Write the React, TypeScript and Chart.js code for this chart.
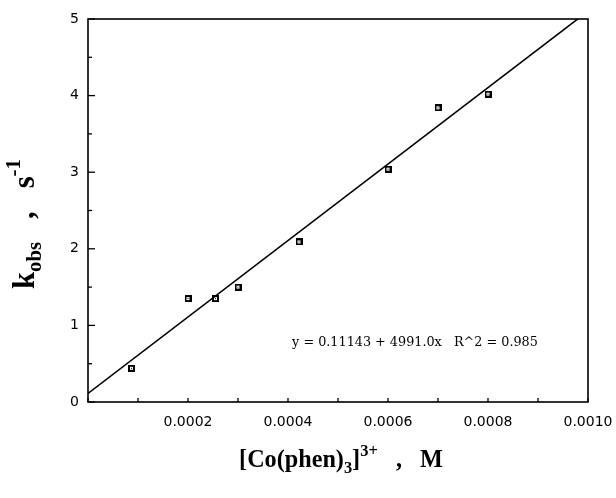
import React, { useEffect, useRef } from 'react';
import { Chart, registerables } from 'chart.js';

Chart.register(...registerables);

// Measured data: [Co(phen)3]3+ concentration (M) vs k_obs (s^-1)
const concentrations = [0.000087, 0.0002, 0.000255, 0.0003, 0.000422, 0.0006, 0.0007, 0.0008];
const kobsValues = [0.44, 1.35, 1.35, 1.5, 2.09, 3.04, 3.84, 4.02];

// Least-squares fit line y = 0.11143 + 4991.0x, drawn at its end points
const fitX = [0, 0.001];
const fitY = [0.11143, 5.10243];

const xTickValues = [0.0002, 0.0004, 0.0006, 0.0008, 0.001];
const yTickValues = [0, 1, 2, 3, 4, 5];
const equationText = 'y = 0.11143 + 4991.0x   R^2 = 0.985';

type Seg = { t: string; mode: 'n' | 'sub' | 'sup' };

function drawRich(ctx: CanvasRenderingContext2D, segs: Seg[], family: string, weight: string, targetWidth: number) {
  const measure = (size: number) => {
    let w = 0;
    for (const s of segs) {
      const fs = s.mode === 'n' ? size : size * 0.68;
      ctx.font = `${weight} ${fs}px ${family}`;
      w += ctx.measureText(s.t).width;
    }
    return w;
  };
  const w100 = measure(100);
  const size = (targetWidth / w100) * 100;
  const total = measure(size);
  let x = -total / 2;
  ctx.textBaseline = 'middle';
  ctx.textAlign = 'left';
  ctx.fillStyle = '#000';
  for (const s of segs) {
    const fs = s.mode === 'n' ? size : size * 0.68;
    ctx.font = `${weight} ${fs}px ${family}`;
    const dy = s.mode === 'sub' ? size * 0.3 : s.mode === 'sup' ? -size * 0.38 : 0;
    ctx.fillText(s.t, x, dy);
    x += ctx.measureText(s.t).width;
  }
}

function makeMarker(): HTMLCanvasElement {
  const c = document.createElement('canvas');
  c.width = 7;
  c.height = 7;
  const g = c.getContext('2d')!;
  g.fillStyle = '#000';
  g.fillRect(0, 0, 7, 7);
  g.fillStyle = '#fff';
  g.fillRect(2, 2, 3, 3);
  g.fillStyle = '#000';
  g.fillRect(3, 3, 1, 1);
  return c;
}

const decorPlugin = {
  id: 'decor',
  afterDraw(chart: any) {
    const ctx: CanvasRenderingContext2D = chart.ctx;
    const { left, right, top, bottom } = chart.chartArea;
    const xs = chart.scales.x;
    const ys = chart.scales.y;
    ctx.save();
    ctx.strokeStyle = '#000';
    ctx.lineWidth = 1.6;
    ctx.strokeRect(left, top, right - left, bottom - top);
    ctx.lineWidth = 1.3;
    for (let i = 0; i <= 10; i++) {
      const v = i * 0.5;
      const py = ys.getPixelForValue(v);
      const len = i % 2 === 0 ? 7 : 4;
      ctx.beginPath();
      ctx.moveTo(left, py);
      ctx.lineTo(left + len, py);
      ctx.stroke();
    }
    for (let i = 0; i <= 10; i++) {
      const v = i * 0.0001;
      const px = xs.getPixelForValue(v);
      ctx.beginPath();
      ctx.moveTo(px, bottom);
      ctx.lineTo(px, bottom - 4);
      ctx.stroke();
    }
    ctx.save();
    ctx.translate(415, 343);
    drawRich(ctx, [{ t: equationText, mode: 'n' }], '"DejaVu Serif"', 'normal', 246);
    ctx.restore();
    ctx.save();
    ctx.translate(341, 461);
    drawRich(
      ctx,
      [
        { t: '[Co(phen)', mode: 'n' },
        { t: '3', mode: 'sub' },
        { t: ']', mode: 'n' },
        { t: '3+', mode: 'sup' },
        { t: '   ,   M', mode: 'n' },
      ],
      '"Liberation Serif"',
      'bold',
      204
    );
    ctx.restore();
    ctx.save();
    ctx.translate(26, 224);
    ctx.rotate(-Math.PI / 2);
    drawRich(
      ctx,
      [
        { t: 'k', mode: 'n' },
        { t: 'obs', mode: 'sub' },
        { t: '   ,   s', mode: 'n' },
        { t: '-1', mode: 'sup' },
      ],
      '"Liberation Serif"',
      'bold',
      130
    );
    ctx.restore();
    ctx.restore();
  },
};

export default function App() {
  const ref = useRef<HTMLCanvasElement | null>(null);
  useEffect(() => {
    if (!ref.current) return;
    const marker = makeMarker();
    const chart = new Chart(ref.current, {
      type: 'scatter',
      data: {
        datasets: [
          {
            type: 'line',
            data: fitX.map((x, i) => ({ x, y: fitY[i] })),
            borderColor: '#000',
            borderWidth: 1.6,
            pointRadius: 0,
            fill: false,
          } as any,
          {
            data: concentrations.map((x, i) => ({ x, y: kobsValues[i] })),
            pointStyle: marker as any,
            pointRadius: 4,
            backgroundColor: '#000',
            borderColor: '#000',
          },
        ],
      },
      options: {
        responsive: false,
        animation: false,
        layout: { padding: { top: 19, right: 28, left: 0, bottom: 0 } },
        plugins: { legend: { display: false }, tooltip: { enabled: false } },
        scales: {
          x: {
            type: 'linear',
            min: 0,
            max: 0.001,
            afterFit: (s: any) => {
              s.height = 96;
              s.paddingLeft = 0;
              s.paddingRight = 0;
            },
            afterBuildTicks: (s: any) => {
              s.ticks = xTickValues.map((v) => ({ value: v }));
            },
            grid: { display: false, drawTicks: false },
            border: { display: false },
            ticks: {
              padding: 12,
              maxRotation: 0,
              autoSkip: false,
              color: '#000',
              font: { family: '"DejaVu Sans"', size: 14 },
              callback: (v: any) => Number(v).toFixed(4),
            },
          },
          y: {
            type: 'linear',
            min: 0,
            max: 5,
            afterFit: (s: any) => {
              s.width = 88;
              s.paddingTop = 0;
              s.paddingBottom = 0;
            },
            afterBuildTicks: (s: any) => {
              s.ticks = yTickValues.map((v) => ({ value: v }));
            },
            grid: { display: false, drawTicks: false },
            border: { display: false },
            ticks: {
              padding: 9,
              color: '#000',
              font: { family: '"DejaVu Sans"', size: 14 },
              callback: (v: any) => String(v),
            },
          },
        },
      },
      plugins: [decorPlugin],
    });
    return () => chart.destroy();
  }, []);
  return (
    <div style={{ position: 'absolute', left: 0, top: 0, width: 616, height: 498, background: '#fff' }}>
      <canvas ref={ref} width={616} height={498} />
    </div>
  );
}
